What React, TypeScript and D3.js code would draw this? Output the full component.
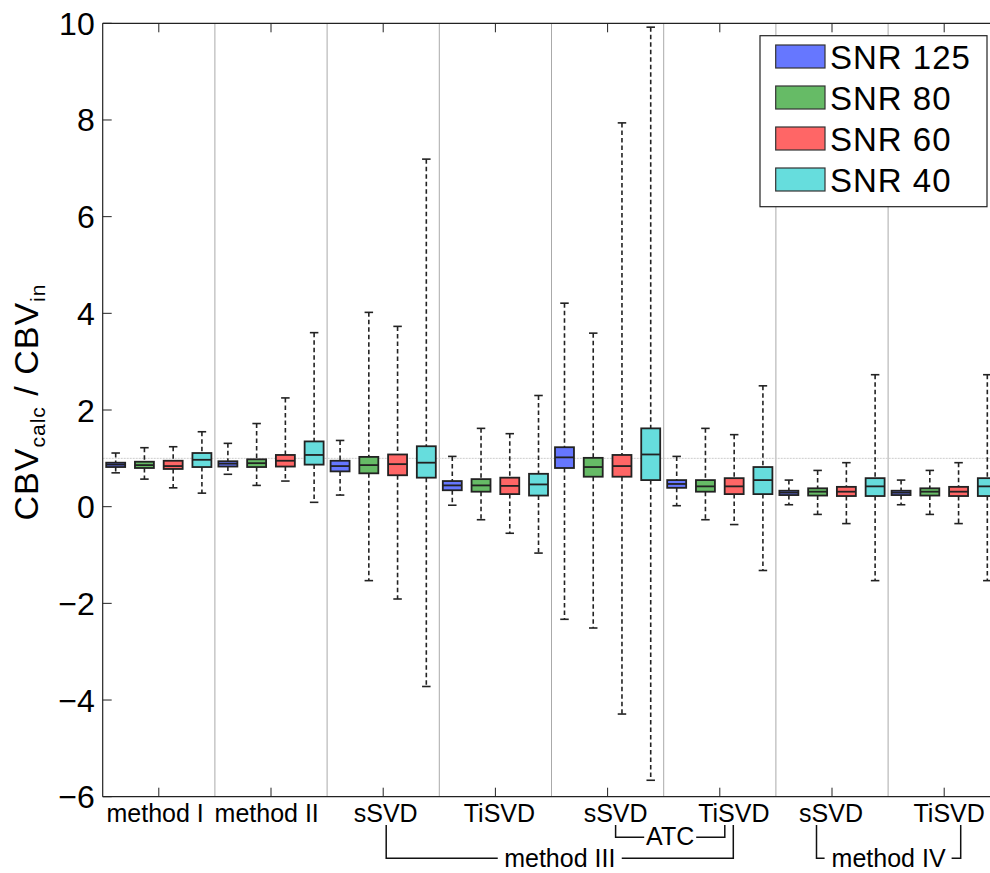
import React from "react";
import * as d3 from "d3";

// ---- data ----
const groups = ["method I", "method II", "sSVD", "TiSVD", "sSVD", "TiSVD", "sSVD", "TiSVD"];
const seriesNames = ["SNR 125", "SNR 80", "SNR 60", "SNR 40"];
const seriesColors = ["#6677ff", "#66bb66", "#ff6666", "#66dddd"];
const yTicks = [-6, -4, -2, 0, 2, 4, 6, 8, 10];

// [lowWhisker, q1, median, q3, highWhisker] per group
const snr125 = [
  [0.70, 0.82, 0.87, 0.91, 1.11],
  [0.67, 0.83, 0.89, 0.94, 1.31],
  [0.24, 0.73, 0.84, 0.95, 1.37],
  [0.03, 0.34, 0.44, 0.53, 1.04],
  [-2.33, 0.80, 1.02, 1.23, 4.21],
  [0.02, 0.39, 0.47, 0.55, 1.04],
  [0.04, 0.24, 0.29, 0.33, 0.55],
  [0.04, 0.24, 0.29, 0.33, 0.55],
];
const snr80 = [
  [0.57, 0.80, 0.86, 0.93, 1.22],
  [0.44, 0.82, 0.90, 0.98, 1.72],
  [-1.53, 0.69, 0.86, 1.03, 4.02],
  [-0.27, 0.31, 0.44, 0.57, 1.62],
  [-2.51, 0.62, 0.82, 1.01, 3.59],
  [-0.27, 0.31, 0.42, 0.55, 1.62],
  [-0.16, 0.23, 0.31, 0.38, 0.75],
  [-0.16, 0.23, 0.31, 0.38, 0.75],
];
const snr60 = [
  [0.39, 0.78, 0.84, 0.95, 1.24],
  [0.53, 0.83, 0.95, 1.07, 2.25],
  [-1.91, 0.65, 0.88, 1.08, 3.73],
  [-0.55, 0.26, 0.43, 0.60, 1.51],
  [-4.29, 0.62, 0.84, 1.07, 7.94],
  [-0.37, 0.26, 0.42, 0.59, 1.49],
  [-0.35, 0.22, 0.31, 0.41, 0.91],
  [-0.35, 0.22, 0.31, 0.41, 0.91],
];
const snr40 = [
  [0.28, 0.82, 0.97, 1.11, 1.55],
  [0.09, 0.87, 1.07, 1.35, 3.60],
  [-3.72, 0.60, 0.91, 1.25, 7.19],
  [-0.96, 0.23, 0.46, 0.68, 2.30],
  [-5.66, 0.55, 1.08, 1.62, 9.92],
  [-1.32, 0.26, 0.55, 0.82, 2.50],
  [-1.53, 0.22, 0.42, 0.59, 2.73],
  [-1.53, 0.22, 0.42, 0.59, 2.73],
];
const allSeries = [snr125, snr80, snr60, snr40];

// ---- layout ----
const W = 990, H = 873;
const left = 102.7, top = 23.3, bottom = 796.7;
const groupW = 112.2;
const right = left + groups.length * groupW;
const labelShift = [-3.7, -4.3, 2.5, 4, 8, 14, -1, 5];
const FONT = "'Liberation Sans', Arial, Helvetica, sans-serif";

export default function App() {
  const y = d3.scaleLinear().domain([-6, 10]).range([bottom, top]);
  const xg = d3.scaleBand<number>().domain(d3.range(groups.length)).range([left, right]).padding(0);
  const xs = d3.scaleBand<number>().domain(d3.range(4)).range([-52.6, 52.6]).paddingInner(0.34).paddingOuter(0);
  const boxW = xs.bandwidth();
  const center = (g: number) => (xg(g) as number) + xg.bandwidth() / 2;
  const capW = 8.5;
  const stroke = "#222";

  const bracketY1 = 825, atcY = 837.3, m3Y = 858.3;
  const c = (g: number) => center(g);
  const m3L = c(2) + 3, m3R = c(5) + 13.5;
  const atcL = c(4) + 8, atcR = c(5) + 5;
  const m4L = c(6) - 15.5, m4R = c(7) + 16.5;

  return (
    <svg width={W} height={H} style={{ position: "absolute", left: 0, top: 0, background: "#fff" }} fontFamily={FONT}>
      <rect x={0} y={0} width={W} height={H} fill="#fff" />
      {/* group separators */}
      {d3.range(1, groups.length).map((k) => (
        <line key={"sep" + k} x1={xg(k)} x2={xg(k)} y1={top} y2={bottom} stroke="#aaaaaa" strokeWidth={1} />
      ))}
      {/* reference line at 1 */}
      <line x1={left} x2={right} y1={y(1)} y2={y(1)} stroke="#cccccc" strokeWidth={1} strokeDasharray="2,1" />
      {/* boxes */}
      {allSeries.map((ser, si) =>
        ser.map((d, g) => {
          const cx = center(g) + (xs(si) as number) + boxW / 2;
          const [lo, q1, med, q3, hi] = d;
          return (
            <g key={`b${si}-${g}`}>
              <line x1={cx} x2={cx} y1={y(hi)} y2={y(q3)} stroke={stroke} strokeWidth={1.6} strokeDasharray="4.5,3" />
              <line x1={cx} x2={cx} y1={y(q1)} y2={y(lo)} stroke={stroke} strokeWidth={1.6} strokeDasharray="4.5,3" />
              <line x1={cx - capW / 2} x2={cx + capW / 2} y1={y(hi)} y2={y(hi)} stroke={stroke} strokeWidth={1.6} />
              <line x1={cx - capW / 2} x2={cx + capW / 2} y1={y(lo)} y2={y(lo)} stroke={stroke} strokeWidth={1.6} />
              <rect x={cx - boxW / 2} y={y(q3)} width={boxW} height={y(q1) - y(q3)} fill={seriesColors[si]} stroke={stroke} strokeWidth={1.8} />
              <line x1={cx - boxW / 2} x2={cx + boxW / 2} y1={y(med)} y2={y(med)} stroke={stroke} strokeWidth={1.8} />
            </g>
          );
        })
      )}
      {/* axes frame */}
      <line x1={left} x2={left} y1={top} y2={bottom} stroke="#222" strokeWidth={1.2} />
      <line x1={left} x2={right} y1={bottom} y2={bottom} stroke="#222" strokeWidth={1.2} />
      <line x1={left} x2={right} y1={top} y2={top} stroke="#222" strokeWidth={1.2} />
      {yTicks.map((t) => (
        <g key={"yt" + t}>
          <line x1={left} x2={left + 9} y1={y(t)} y2={y(t)} stroke="#222" strokeWidth={1} />
          <text x={left - 8} y={y(t)} dy="0.36em" textAnchor="end" fontSize={32} fill="#000">
            {t < 0 ? "\u2212" + Math.abs(t) : String(t)}
          </text>
        </g>
      ))}
      {groups.map((gname, g) => (
        <g key={"xt" + g}>
          <line x1={center(g)} x2={center(g)} y1={bottom} y2={bottom - 9} stroke="#222" strokeWidth={1} />
          <line x1={center(g)} x2={center(g)} y1={top} y2={top + 9} stroke="#222" strokeWidth={1} />
          <text x={center(g) + labelShift[g]} y={821.5} textAnchor="middle" fontSize={25} fill="#000">{gname}</text>
        </g>
      ))}
      {/* brackets */}
      <g stroke="#111" strokeWidth={1.5} fill="none">
        <polyline points={`${atcL},${bracketY1} ${atcL},${atcY} ${(atcL + atcR) / 2 - 26},${atcY}`} />
        <polyline points={`${(atcL + atcR) / 2 + 26},${atcY} ${atcR},${atcY} ${atcR},${bracketY1}`} />
        <polyline points={`${m3L},${bracketY1} ${m3L},${m3Y} ${(m3L + m3R) / 2 - 62},${m3Y}`} />
        <polyline points={`${(m3L + m3R) / 2 + 62},${m3Y} ${m3R},${m3Y} ${m3R},${bracketY1}`} />
        <polyline points={`${m4L},${bracketY1} ${m4L},${m3Y} ${(m4L + m4R) / 2 - 64},${m3Y}`} />
        <polyline points={`${(m4L + m4R) / 2 + 63},${m3Y} ${m4R},${m3Y} ${m4R},${bracketY1}`} />
      </g>
      <text x={(atcL + atcR) / 2} y={845} textAnchor="middle" fontSize={25} fill="#000">ATC</text>
      <text x={(m3L + m3R) / 2} y={866.5} textAnchor="middle" fontSize={25} fill="#000">method III</text>
      <text x={(m4L + m4R) / 2} y={866.5} textAnchor="middle" fontSize={25} fill="#000">method IV</text>
      {/* y label */}
      <text transform={`translate(38,402) rotate(-90)`} textAnchor="middle" fontSize={34} letterSpacing={1} fill="#000">
        CBV<tspan fontSize={21} dy={7}>calc</tspan>
        <tspan dy={-7}> / CBV</tspan>
        <tspan fontSize={21} dy={7}>in</tspan>
      </text>
      {/* legend */}
      <rect x={760} y={35.7} width={227} height={171} fill="#fff" stroke="#222" strokeWidth={1.2} />
      {seriesNames.map((s, i) => (
        <g key={"lg" + i}>
          <rect x={775.7} y={45 + i * 41} width={49.3} height={23} fill={seriesColors[i]} stroke="#333" strokeWidth={1.2} />
          <text x={830} y={69 + i * 41} fontSize={33} letterSpacing={1} fill="#000">{s}</text>
        </g>
      ))}
    </svg>
  );
}
